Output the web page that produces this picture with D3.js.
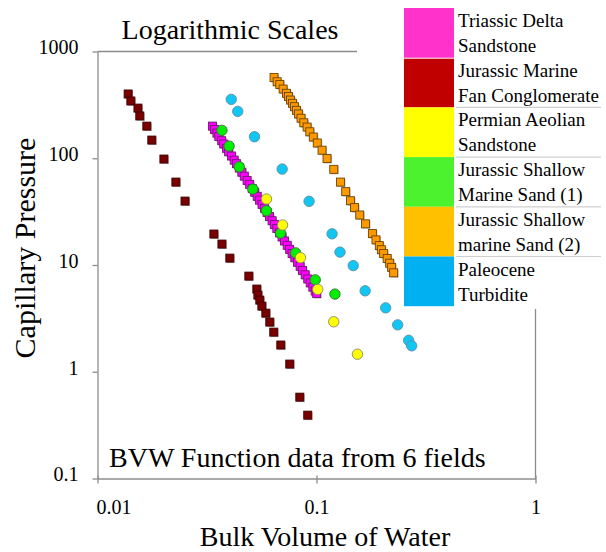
<!DOCTYPE html>
<html>
<head>
<meta charset="utf-8">
<script src="https://cdn.jsdelivr.net/npm/d3@7/dist/d3.min.js"></script>
<style>
  html, body { margin: 0; padding: 0; background: #fff; }
</style>
</head>
<body>
<svg id="chart" width="606" height="552"></svg>
<script>
// ---------- DATA ----------
const xTickValues = [0.01, 0.1, 1];
const xTickLabels = ["0.01", "0.1", "1"];
const yTickValues = [0.1, 1, 10, 100, 1000];
const yTickLabels = ["0.1", "1", "10", "100", "1000"];

const legendNames = [
  ["Triassic Delta", "Sandstone"],
  ["Jurassic Marine", "Fan Conglomerate"],
  ["Permian Aeolian", "Sandstone"],
  ["Jurassic Shallow", "Marine Sand (1)"],
  ["Jurassic Shallow", "marine Sand (2)"],
  ["Paleocene", "Turbidite"]
];

// Triassic Delta Sandstone
const triassicBVW = [0.0335,0.0342,0.0351,0.0358,0.0369,0.0377,0.0388,0.0397,0.0409,0.0421,0.0431,0.0444,0.0456,0.0468,0.0482,0.0495,0.0509,0.0522,0.0536,0.0549,0.0564,0.0579,0.0595,0.0610,0.0627,0.0642,0.0659,0.0678,0.0696,0.0714,0.0735,0.0754,0.0774,0.0796,0.0819,0.0842,0.0863,0.0888,0.0912,0.0936,0.0962,0.0986,0.1002];
const triassicPc  = [200,186,172,160,146,136,124,115,105,96,89,81,74,68,62,57,52,48,44,40.5,37,34,31,28.5,26,24,22,20,18.3,16.8,15.3,14,12.8,11.7,10.6,9.7,8.9,8.1,7.4,6.8,6.2,5.7,5.4];

// Jurassic Marine Fan Conglomerate
const fanBVW = [0.0138,0.0142,0.0153,0.0156,0.0168,0.0177,0.0201,0.0228,0.0251,0.0340,0.0370,0.0402,0.0491,0.0534,0.0540,0.0551,0.0563,0.0587,0.0612,0.0638,0.0687,0.0755,0.0839,0.0912];
const fanPc  = [400,344,295,249,200,148,98.3,59.8,39.7,19.5,15.7,11.6,7.87,5.95,5.22,4.69,4.12,3.54,2.92,2.35,1.78,1.18,0.578,0.392];

// Permian Aeolian Sandstone
const permianBVW = [0.0591,0.0700,0.0845,0.1013,0.1199,0.1538];
const permianPc  = [41.5,23.7,11.7,5.91,2.94,1.46];

// Jurassic Shallow Marine Sand (1)
const shallow1BVW = [0.0370,0.0399,0.0444,0.0512,0.0591,0.0685,0.0803,0.0987,0.1214];
const shallow1Pc  = [182.6,130,83.2,51.4,32.2,19.9,13.0,7.26,5.34];

// Jurassic Shallow marine Sand (2)
const shallow2BVW = [0.0640,0.0661,0.0680,0.0704,0.0729,0.0745,0.0761,0.0777,0.0793,0.0810,0.0827,0.0850,0.0875,0.0906,0.0932,0.0967,0.1008,0.1060,0.1117,0.1199,0.1287,0.1359,0.1430,0.1492,0.1575,0.1674,0.1800,0.1869,0.1935,0.1978,0.2026,0.2102,0.2158,0.2203,0.2250];
const shallow2Pc  = [570,521,491,445,406,379,351,327,304,281,260,237,215,196,177,158,139,119,99.4,78.7,59.8,48.7,40.0,34.5,29.4,24.3,19.7,17.2,15.2,13.9,12.8,11.5,10.4,9.5,8.45];

// Paleocene Turbidite
const paleoBVW = [0.0408,0.0437,0.0521,0.0697,0.0925,0.1178,0.1280,0.1471,0.1668,0.2069,0.2348,0.2635,0.2720];
const paleoPc  = [356,275,159,79.2,39.5,19.6,13.2,9.87,5.73,3.97,2.75,1.97,1.75];

// ---------- CHART ----------
const FONT = "'Liberation Serif', 'Times New Roman', Tinos, serif";
const svg = d3.select("#chart");
const plot = { left: 97.5, right: 535.5, top: 51.5, bottom: 478.5 };

const x = d3.scaleLog().domain([0.01, 1]).range([plot.left, plot.right]);
const y = d3.scaleLog().domain([0.1, 1000]).range([plot.bottom, plot.top]);

const axisColor = "#8c8c8c";

function txt(sel) { return sel.style("font-family", FONT).style("fill", "#000"); }

// plot frame pieces visible in the reference
svg.append("line").attr("x1", plot.left).attr("x2", 357).attr("y1", plot.top).attr("y2", plot.top)
  .attr("stroke", axisColor).attr("stroke-width", 1.3);
svg.append("line").attr("x1", plot.right).attr("x2", plot.right).attr("y1", 309).attr("y2", plot.bottom)
  .attr("stroke", axisColor).attr("stroke-width", 1.3);

// axes
const xAxis = d3.axisBottom(x).tickValues(xTickValues)
  .tickFormat((d, i) => xTickLabels[i]).tickSizeInner(5).tickSizeOuter(0).tickPadding(16);
const gx = svg.append("g").attr("transform", `translate(0,${plot.bottom})`).call(xAxis);
gx.select(".domain").attr("stroke", axisColor).attr("stroke-width", 1.3);
gx.selectAll(".tick line").attr("stroke", axisColor).attr("stroke-width", 1.3).attr("y1", -3);
txt(gx.selectAll(".tick text")).style("font-size", "20px")
  .attr("dx", (d, i) => i === 0 ? 16 : 0);

const yAxis = d3.axisLeft(y).tickValues(yTickValues)
  .tickFormat((d, i) => yTickLabels[i]).tickSizeInner(5).tickSizeOuter(0).tickPadding(14);
const gy = svg.append("g").attr("transform", `translate(${plot.left},0)`).call(yAxis);
gy.select(".domain").attr("stroke", axisColor).attr("stroke-width", 1.3);
gy.selectAll(".tick line").attr("stroke", axisColor).attr("stroke-width", 1.3);
txt(gy.selectAll(".tick text")).style("font-size", "20px").attr("dy", "0.12em");

// axis titles
txt(svg.append("text")).attr("x", 325).attr("y", 546).attr("text-anchor", "middle")
  .style("font-size", "28px").text("Bulk Volume of Water");
txt(svg.append("text")).attr("transform", "translate(35,248) rotate(-90)").attr("text-anchor", "middle")
  .style("font-size", "30px").text("Capillary Pressure");

// title and annotation
txt(svg.append("text")).attr("x", 230).attr("y", 39).attr("text-anchor", "middle")
  .style("font-size", "28px").text("Logarithmic Scales");
txt(svg.append("text")).attr("x", 109).attr("y", 467)
  .style("font-size", "28px").text("BVW Function data from 6 fields");

// ---------- MARKERS ----------
const S = 8; // square size
function squares(bvw, pc, fill, stroke) {
  const data = bvw.map((v, i) => [v, pc[i]]);
  const g = svg.append("g");
  g.selectAll("rect.sh").data(data).join("rect").attr("class", "sh")
    .attr("x", d => x(d[0]) - S / 2 + 1).attr("y", d => y(d[1]) - S / 2 + 1)
    .attr("width", S).attr("height", S).attr("fill", "#000").attr("opacity", 0.25);
  g.selectAll("rect.m").data(data).join("rect").attr("class", "m")
    .attr("x", d => x(d[0]) - S / 2).attr("y", d => y(d[1]) - S / 2)
    .attr("width", S).attr("height", S).attr("fill", fill)
    .attr("stroke", stroke).attr("stroke-width", 0.9);
}
function circles(bvw, pc, fill, stroke) {
  const data = bvw.map((v, i) => [v, pc[i]]);
  const g = svg.append("g");
  g.selectAll("circle").data(data).join("circle")
    .attr("cx", d => x(d[0])).attr("cy", d => y(d[1])).attr("r", 5.2)
    .attr("fill", fill).attr("stroke", stroke).attr("stroke-width", 0.9);
}

squares(triassicBVW, triassicPc, "#ff00ff", "#6e1a6e");
squares(fanBVW, fanPc, "#7a0000", "#3a0000");
squares(shallow2BVW, shallow2Pc, "#ff9900", "#6b4500");
circles(paleoBVW, paleoPc, "#11c6f3", "#5a8ea3");
circles(shallow1BVW, shallow1Pc, "#00ee00", "#3a6e3a");
circles(permianBVW, permianPc, "#ffff00", "#888866");

// ---------- LEGEND ----------
const legendColors = ["#ff33cc", "#c00000", "#ffff00", "#4cf22e", "#ffc000", "#00b0f0"];
const legendTop = 8, rowH = 49.7;
const lg = svg.append("g");
legendNames.forEach((names, i) => {
  const y0 = legendTop + i * rowH;
  lg.append("rect").attr("x", 404).attr("y", y0 + (i === 1 ? 1 : 0)).attr("width", 50)
    .attr("height", rowH - (i === 1 ? 1 : 0)).attr("fill", legendColors[i]);
  if (i >= 2) {
    lg.append("line").attr("x1", 456).attr("x2", 601).attr("y1", y0).attr("y2", y0)
      .attr("stroke", "#cfcfcf").attr("stroke-width", 1.2);
  }
  txt(lg.append("text")).attr("x", 458).attr("y", y0 + 19).style("font-size", "19px").text(names[0]);
  txt(lg.append("text")).attr("x", 458).attr("y", y0 + 44).style("font-size", "19px").text(names[1]);
});
</script>
</body>
</html>
